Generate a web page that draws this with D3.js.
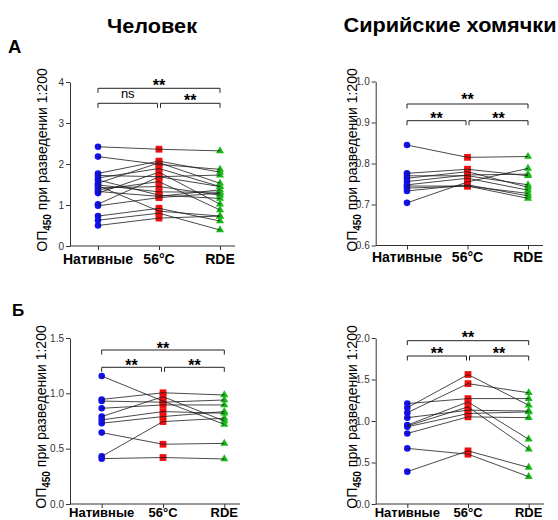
<!DOCTYPE html>
<html>
<head>
<meta charset="utf-8">
<script src="https://cdn.jsdelivr.net/npm/d3@7"></script>
<style>
  body { margin: 0; background: #fff; }
  svg { display: block; }
  text { font-family: "Liberation Sans", Arial, sans-serif; }
</style>
</head>
<body>
<svg id="chart" width="558" height="520"></svg>
<script>
// Treatments of each serum sample
const categories = ["Нативные", "56°C", "RDE"];

// OD450 at 1:200, one row per serum: [native, 56°C, RDE]
const humanA = [
  [2.42, 2.36, 2.32],
  [2.18, 1.99, 1.87],
  [1.77, 2.07, 1.80],
  [1.72, 1.69, 1.73],
  [1.66, 1.89, 1.45],
  [1.61, 1.24, 1.16],
  [1.53, 2.03, 1.53],
  [1.49, 1.32, 1.31],
  [1.47, 0.85, 0.73],
  [1.42, 1.45, 1.24],
  [1.37, 1.57, 0.88],
  [1.33, 1.21, 1.37],
  [1.29, 1.80, 1.02],
  [1.02, 1.69, 1.45],
  [0.98, 1.18, 1.29],
  [0.73, 0.92, 0.61],
  [0.63, 0.80, 0.39],
  [0.50, 0.68, 0.73]
];
const hamsterA = [
  [0.845, 0.815, 0.817],
  [0.704, 0.755, 0.788],
  [0.770, 0.770, 0.748],
  [0.776, 0.786, 0.770],
  [0.764, 0.780, 0.742],
  [0.756, 0.772, 0.774],
  [0.748, 0.764, 0.735],
  [0.740, 0.745, 0.727],
  [0.733, 0.748, 0.721],
  [0.745, 0.745, 0.715]
];
const humanB = [
  [1.156, 0.93, 0.72],
  [0.945, 1.005, 0.985],
  [0.93, 0.92, 0.94],
  [0.865, 0.895, 0.895],
  [0.79, 0.97, 0.75],
  [0.76, 0.835, 0.82],
  [0.73, 0.79, 0.835],
  [0.645, 0.54, 0.548],
  [0.43, 0.745, 0.775],
  [0.41, 0.42, 0.407]
];
const hamsterB = [
  [1.21, 1.27, 1.27],
  [1.16, 1.56, 1.19],
  [1.10, 1.45, 1.34],
  [1.04, 1.13, 1.12],
  [0.95, 1.23, 0.78],
  [0.94, 1.17, 0.66],
  [0.93, 1.09, 1.11],
  [0.85, 1.05, 1.04],
  [0.67, 0.60, 0.33],
  [0.39, 0.64, 0.44]
];

// Axis ticks
const ticksHumanA = [0, 1, 2, 3, 4];
const ticksHamsterA = [0.6, 0.7, 0.8, 0.9, 1.0];
const ticksHumanB = [0, 0.5, 1.0, 1.5];
const ticksHamsterB = [0, 0.5, 1.0, 1.5, 2.0];

// Significance marks: [native vs RDE, native vs 56°C, 56°C vs RDE]
const sigHumanA = ["**", "ns", "**"];
const sigHamsterA = ["**", "**", "**"];
const sigHumanB = ["**", "**", "**"];
const sigHamsterB = ["**", "**", "**"];

const colors = ["#1010f0", "#f01010", "#18b818"];
const shapes = [d3.symbolCircle, d3.symbolSquare, d3.symbolTriangle];
const shapeSizes = [34, 46, 28];

const svg = d3.select("#chart");

const panels = [
  { data: humanA, ticks: ticksHumanA, fmt: d3.format("d"), sig: sigHumanA,
    domain: [0, 4], yRange: [246, 82], axisX: 70, xRange: [98, 220], axisEnd: 235,
    labelY: 264, labelSize: 14, titleX: 46.5, titleY: 160,
    topBr: 88.3, topTxt: 90.7, lowBr: 103.3, lowTxt: 105.7 },
  { data: hamsterA, ticks: ticksHamsterA, fmt: d3.format(".1f"), sig: sigHamsterA,
    domain: [0.6, 1.0], yRange: [245.5, 81.5], axisX: 375.7, xRange: [407, 528], axisEnd: 543,
    labelY: 262, labelSize: 14, titleX: 356.5, titleY: 160,
    topBr: 104, topTxt: 105, lowBr: 120.7, lowTxt: 123.5 },
  { data: humanB, ticks: ticksHumanB, fmt: d3.format(".1f"), sig: sigHumanB,
    domain: [0, 1.5], yRange: [504, 338], axisX: 70, xRange: [101.7, 224.3], axisEnd: 240,
    labelY: 517, labelSize: 13, titleX: 46, titleY: 417,
    topBr: 350, topTxt: 354, lowBr: 367.3, lowTxt: 371 },
  { data: hamsterB, ticks: ticksHamsterB, fmt: d3.format(".1f"), sig: sigHamsterB,
    domain: [0, 2], yRange: [504, 338], axisX: 375.7, xRange: [407.3, 528.7], axisEnd: 544,
    labelY: 517, labelSize: 13, titleX: 356.5, titleY: 417,
    topBr: 340.7, topTxt: 343, lowBr: 356, lowTxt: 358.5 }
];

panels.forEach(p => {
  const g = svg.append("g");
  const x = d3.scalePoint().domain(categories).range(p.xRange);
  const y = d3.scaleLinear().domain(p.domain).range(p.yRange);
  const y0 = p.yRange[0];

  // y axis
  const ya = g.append("g")
    .attr("transform", `translate(${p.axisX},0)`)
    .call(d3.axisLeft(y).tickValues(p.ticks).tickFormat(p.fmt).tickSize(4).tickSizeOuter(0));
  ya.select(".domain").attr("stroke", "#333");
  ya.selectAll(".tick line").attr("stroke", "#333");
  ya.selectAll(".tick text").attr("x", -6).attr("fill", "#333")
    .style("font-size", "10px").style("font-family", "'Liberation Sans', Arial, sans-serif");

  // x axis
  const xa = g.append("g")
    .attr("transform", `translate(0,${y0})`)
    .call(d3.axisBottom(x).tickSize(4).tickSizeOuter(0).tickFormat(""));
  xa.select(".domain").attr("d", `M${p.axisX},0H${p.axisEnd}`).attr("stroke", "#333");
  xa.selectAll(".tick line").attr("stroke", "#333");

  g.selectAll("text.cat").data(categories).enter().append("text")
    .attr("class", "cat")
    .attr("x", d => x(d)).attr("y", p.labelY)
    .attr("text-anchor", "middle")
    .style("font-size", p.labelSize + "px").style("font-weight", "bold")
    .text(d => d);

  // y axis title
  const t = g.append("text")
    .attr("transform", `translate(${p.titleX},${p.titleY}) rotate(-90)`)
    .attr("text-anchor", "middle")
    .style("font-size", "14px");
  t.append("tspan").text("ОП");
  t.append("tspan").attr("dy", 4).style("font-size", "10px").style("font-weight", "bold").text("450");
  t.append("tspan").attr("dy", -4).text(" при разведении 1:200");

  // symbols per treatment
  categories.forEach((c, i) => {
    g.selectAll(null).data(p.data).enter().append("path")
      .attr("d", d3.symbol().type(shapes[i]).size(shapeSizes[i]))
      .attr("transform", d => `translate(${x(c)},${y(d[i])})`)
      .attr("fill", colors[i]);
  });

  // paired lines on top of the symbols
  const line = d3.line().x((d, i) => x(categories[i])).y(d => y(d));
  g.selectAll(null).data(p.data).enter().append("path")
    .attr("d", line)
    .attr("fill", "none")
    .attr("stroke", "#1a1a1a")
    .attr("stroke-width", 0.8);

  // significance brackets
  const xa0 = x(categories[0]), xa1 = x(categories[1]), xa2 = x(categories[2]);
  const bracket = (x1, x2, yb, label, ty) => {
    g.append("path")
      .attr("d", `M${x1},${yb + 4.5}V${yb}H${x2}V${yb + 4.5}`)
      .attr("fill", "none").attr("stroke", "#222").attr("stroke-width", 1);
    const lab = g.append("text")
      .attr("x", (x1 + x2) / 2).attr("text-anchor", "middle")
      .text(label);
    if (label === "ns") {
      lab.attr("y", ty - 7.5).style("font-size", "13px");
    } else {
      lab.attr("y", ty).style("font-size", "16px").style("font-weight", "bold");
    }
  };
  bracket(xa0, xa2, p.topBr, p.sig[0], p.topTxt);
  bracket(xa0, xa1 - 1.5, p.lowBr, p.sig[1], p.lowTxt);
  bracket(xa1 + 1.5, xa2, p.lowBr, p.sig[2], p.lowTxt);
});

// panel titles and letters
svg.append("text").attr("x", 152).attr("y", 33).attr("text-anchor", "middle")
  .attr("textLength", 90).attr("lengthAdjust", "spacingAndGlyphs")
  .style("font-size", "20.5px").style("font-weight", "bold").text("Человек");
svg.append("text").attr("x", 450).attr("y", 32).attr("text-anchor", "middle")
  .attr("textLength", 213).attr("lengthAdjust", "spacingAndGlyphs")
  .style("font-size", "19.5px").style("font-weight", "bold").text("Сирийские хомячки");
svg.append("text").attr("x", 8).attr("y", 53.3)
  .style("font-size", "18.5px").style("font-weight", "bold").text("А");
svg.append("text").attr("x", 12).attr("y", 316)
  .style("font-size", "17px").style("font-weight", "bold").text("Б");
</script>
</body>
</html>
